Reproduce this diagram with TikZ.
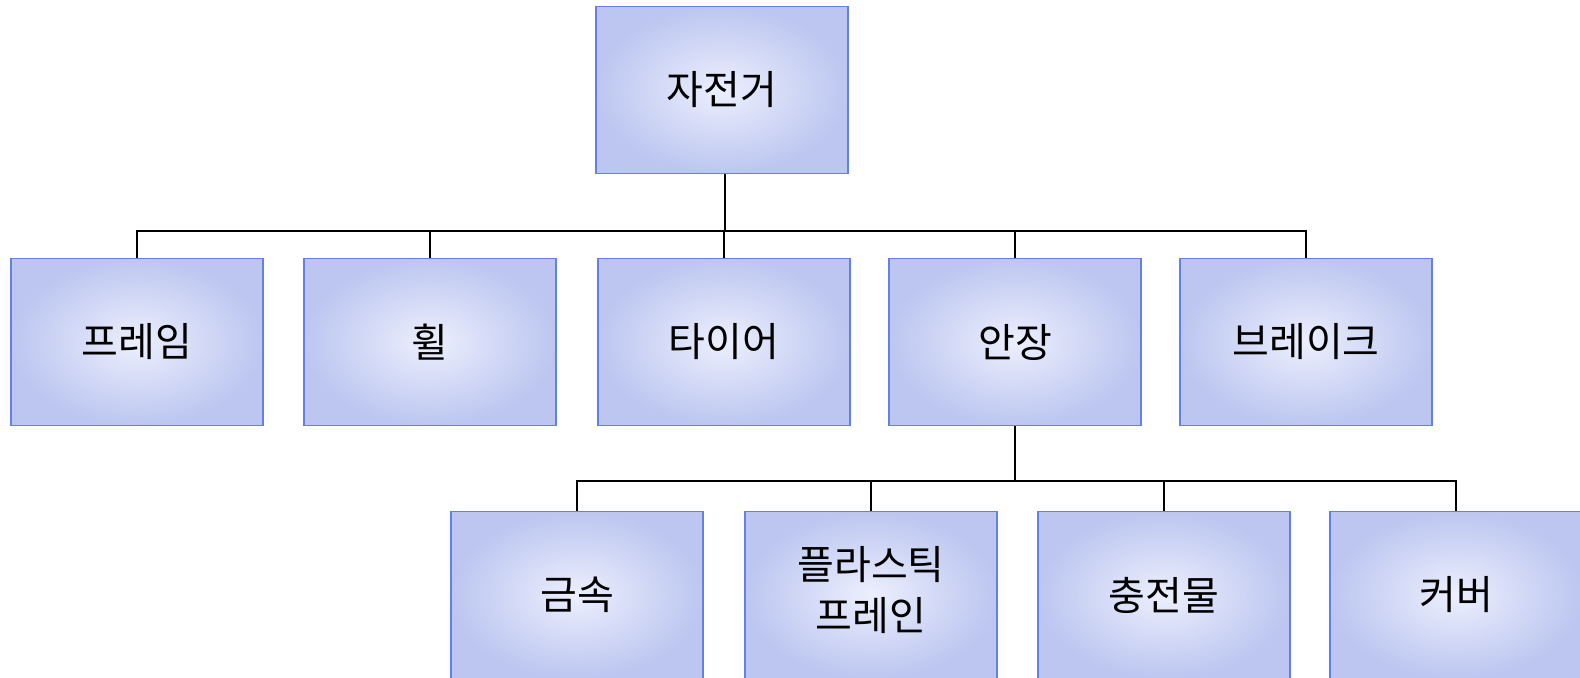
\documentclass[tikz,border=0pt]{standalone}
\usepackage{fontspec}
\setmainfont{Noto Sans CJK KR}
\definecolor{boxedge}{RGB}{188,198,240}
\definecolor{boxmid}{RGB}{236,239,253}
\definecolor{boxline}{RGB}{100,128,232}
\tikzset{
  partbox/.style={draw=boxline, line width=0.6pt, inner color=boxmid, outer color=boxedge,
    minimum width=126pt, minimum height=83.5pt, inner sep=0pt, align=center,
    font=\fontsize{20}{25}\selectfont},
  link/.style={draw=black, line width=1pt}
}
\begin{document}
\begin{tikzpicture}[x=0.5pt,y=-0.5pt]
\useasboundingbox (0,0) rectangle (1580,678);
\fill[white] (0,0) rectangle (1580,678);
\begin{scope}
\clip (0,0) rectangle (1580,678);
% level 0
\node[partbox] (bike) at (722,90) {자전거};
% level 1
\node[partbox] (frame) at (137,342) {프레임};
\node[partbox] (wheel) at (430,342) {휠};
\node[partbox] (tire) at (724,342) {타이어};
\node[partbox] (saddle) at (1015,342) {안장};
\node[partbox] (brake) at (1306,342) {브레이크};
% level 2
\node[partbox] (metal) at (577,595) {금속};
\node[partbox] (plastic) at (871,595) {\raisebox{5pt}{\begin{tabular}{@{}c@{}}플라스틱\\프레인\end{tabular}}};
\node[partbox] (filling) at (1164,595) {충전물};
\node[partbox] (cover) at (1456,595) {커버};
% level-1 connectors
\coordinate (j1) at (725,231);
\draw[link] (bike.south -| j1) -- (j1);
\draw[link] (frame.north) |- (j1);
\draw[link] (wheel.north) -- (wheel.north |- j1);
\draw[link] (tire.north) -- (tire.north |- j1);
\draw[link] (saddle.north) -- (saddle.north |- j1);
\draw[link] (brake.north) |- (j1);
% level-2 connectors
\coordinate (j2) at (1015,481);
\draw[link] (saddle.south) -- (j2);
\draw[link] (metal.north) |- (j2);
\draw[link] (plastic.north) -- (plastic.north |- j2);
\draw[link] (filling.north) -- (filling.north |- j2);
\draw[link] (cover.north) |- (j2);
\end{scope}
\end{tikzpicture}
\end{document}
